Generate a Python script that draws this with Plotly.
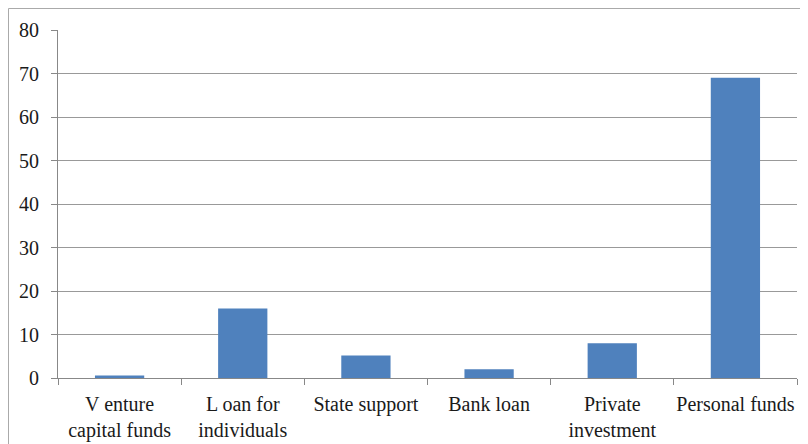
import plotly.graph_objects as go

categories = ["V enture<br>capital funds", "L oan for<br>individuals", "State support",
              "Bank loan", "Private<br>investment", "Personal funds"]
values = [0.6, 16, 5.2, 2, 8, 69]
y_ticks = [0, 10, 20, 30, 40, 50, 60, 70, 80]

# page body has an 8px margin, so the figure starts at (8, 8)
OFF = 8
W, H = 800, 436
L, T = 58 - OFF, 30 - OFF
R = W - (797 - OFF)
B = H - (378 - OFF)
pw, ph = W - L - R, H - T - B

fig = go.Figure(go.Bar(x=categories, y=values, marker=dict(color="#4F81BD", line=dict(width=0)),
                       width=0.4))

font = dict(family="Liberation Serif", size=20, color="#1a1a1a")

fig.update_layout(
    width=W, height=H,
    margin=dict(l=L, r=R, t=T, b=B, autoexpand=False),
    paper_bgcolor="white", plot_bgcolor="white",
    font=font,
    showlegend=False,
    bargap=0.6,
    xaxis=dict(showline=True, linecolor="#888888", linewidth=1,
               ticks="outside", tickson="boundaries", ticklen=6, tickcolor="#888888",
               showgrid=False, tickfont=font, tickangle=0, ticklabelstandoff=8,
               fixedrange=True),
    yaxis=dict(range=[0, 80], tickvals=y_ticks, showline=True, linecolor="#888888", linewidth=1,
               ticks="outside", ticklen=6, tickcolor="#888888",
               showgrid=True, gridcolor="#999999", gridwidth=1, zeroline=False,
               tickfont=font, ticklabelstandoff=8, fixedrange=True),
    shapes=[dict(type="rect", xref="paper", yref="paper",
                 x0=(0.5 - L) / pw, x1=(W + 30 - L) / pw,
                 y0=-(H + 30 - T - ph) / ph, y1=1 + (T - 0.5) / ph,
                 line=dict(color="#AAAAAA", width=1), layer="below")],
)

fig.write_html("out.html")
